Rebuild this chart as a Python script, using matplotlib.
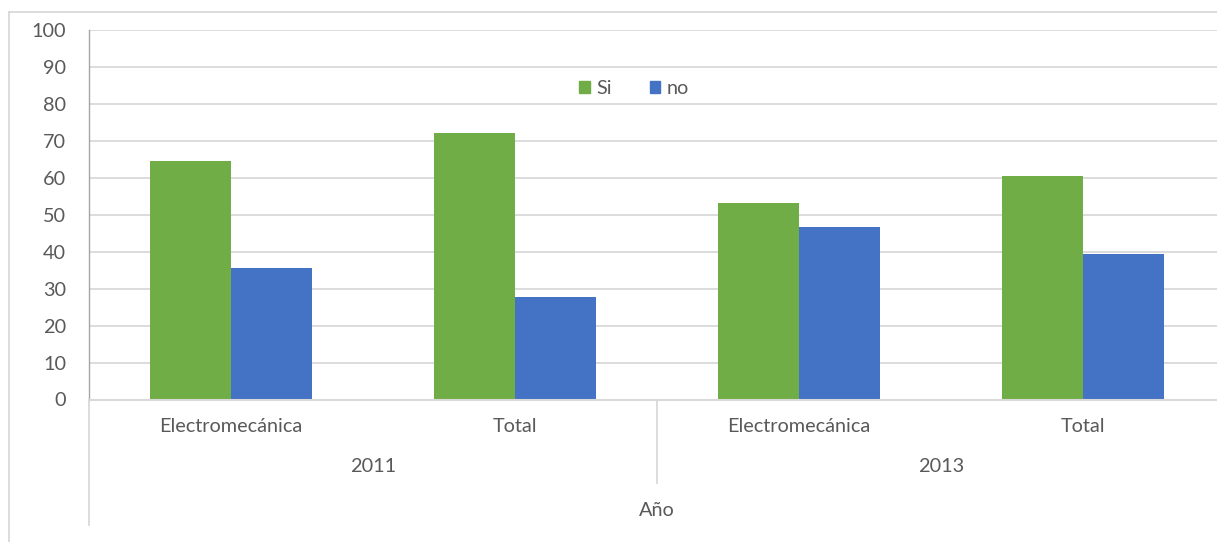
import matplotlib
matplotlib.use("Agg")
import matplotlib.pyplot as plt
from matplotlib.lines import Line2D
from matplotlib.patches import Patch
import numpy as np

categories = ["Electromecánica", "Total", "Electromecánica", "Total"]
years = ["2011", "2013"]
si_values = [64.5, 72.1, 53.2, 60.5]
no_values = [35.5, 27.7, 46.7, 39.4]
series_names = ["Si", "no"]
axis_title = "Año"

GREEN = "#70AD47"
BLUE = "#4472C4"
TXT = "#595959"
GRID = "#D9D9D9"
FS = 14.3

plt.rcParams['font.family'] = ['Lato', 'DejaVu Sans']

W, H = 1217, 542
fig = plt.figure(figsize=(W / 100, H / 100), dpi=100)
fig.patch.set_facecolor("white")

left, right, top, bottom = 89, 1225, 30, 399.5
ax = fig.add_axes([left / W, (H - bottom) / H, (right - left) / W, (bottom - top) / H])

x = np.arange(len(categories))
bw = 0.285
ax.bar(x - bw / 2, si_values, bw, color=GREEN, label=series_names[0], zorder=3)
ax.bar(x + bw / 2, no_values, bw, color=BLUE, label=series_names[1], zorder=3)

ax.set_xlim(-0.5, len(categories) - 0.5)
ax.set_ylim(0, 100)
ax.set_yticks(np.arange(0, 101, 10))
ax.yaxis.grid(True, color=GRID, linewidth=1.3, zorder=0)
ax.set_axisbelow(True)
ax.tick_params(axis="y", length=0, pad=16.5, labelsize=FS, labelcolor=TXT)
ax.tick_params(axis="x", length=0, labelbottom=False)
for s in ["top", "right", "bottom"]:
    ax.spines[s].set_visible(False)
ax.spines["left"].set_color("#A6A6A6")
ax.spines["left"].set_linewidth(1.0)

trans = ax.get_xaxis_transform()
h_px = bottom - top
# baseline
ax.plot([-0.5, len(categories) - 0.5], [0, 0], transform=trans, color=GRID, lw=1.5, clip_on=False, zorder=4)
# separators
ax.plot([-0.5, -0.5], [0, -(525 - bottom) / h_px], transform=trans, color=GRID, lw=1.3, clip_on=False)
ax.plot([1.5, 1.5], [0, -(483 - bottom) / h_px], transform=trans, color=GRID, lw=1.3, clip_on=False)
ax.plot([3.5, 3.5], [0, -(525 - bottom) / h_px], transform=trans, color=GRID, lw=1.3, clip_on=False)

for xi, c in zip(x, categories):
    ax.text(xi, -(426 - bottom) / h_px, c, transform=trans, ha="center", va="center",
            fontsize=FS, color=TXT)
for i, yr in enumerate(years):
    ax.text(2 * i + 0.5, -(467 - bottom) / h_px, yr, transform=trans, ha="center", va="center",
            fontsize=FS, color=TXT)
ax.text(1.5, -(510 - bottom) / h_px, axis_title, transform=trans, ha="center", va="center",
        fontsize=FS, color=TXT)

handles = [Patch(color=GREEN, label=series_names[0]), Patch(color=BLUE, label=series_names[1])]
leg = ax.legend(handles=handles, loc="center", bbox_to_anchor=((634 - left) / (right - left), (bottom - 89) / h_px),
                ncol=2, frameon=False, handlelength=0.55, handleheight=0.55, handletextpad=0.3,
                columnspacing=1.9, fontsize=FS)
for t in leg.get_texts():
    t.set_color(TXT)

# outer chart border
fig.add_artist(Line2D([9 / W, 1.0], [(H - 12) / H, (H - 12) / H], transform=fig.transFigure, color=GRID, lw=1.3))
fig.add_artist(Line2D([9 / W, 9 / W], [(H - 12) / H, 0], transform=fig.transFigure, color=GRID, lw=1.3))

fig.savefig("out.png", dpi=100)
